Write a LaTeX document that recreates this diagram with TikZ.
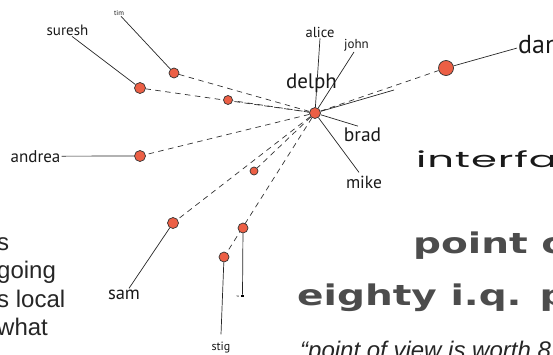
\documentclass[tikz,border=0pt]{standalone}
\usepackage{fontspec}
\setmainfont{PT Sans}
\newfontfamily\slidefont{Liberation Sans}
\newfontfamily\techfont[FakeStretch=1.9,LetterSpace=4]{Poppins}
\newfontfamily\dotfont[FakeStretch=1.37]{DejaVu Sans}
\usetikzlibrary{backgrounds}
\definecolor{nodered}{HTML}{EC5F45}

\begin{document}
\begin{tikzpicture}[x=1pt,y=-1pt,
  person/.style={circle,draw=black!80,fill=nodered,line width=0.7pt,inner sep=0pt,minimum size=#1},
  tie/.style={draw=black!80,line width=0.7pt,dash pattern=on 5.5pt off 4.5pt},
  leader/.style={draw=black!85,line width=0.7pt},
  who/.style={inner sep=1pt,anchor=base,text=black!90,font=\fontsize{#1}{#1}\selectfont},
  slide/.style={inner sep=0pt,anchor=base west,text=black!85,font=\slidefont\fontsize{24}{24}\selectfont},
  pixel/.style={inner sep=0pt,anchor=base west,text=black!70,font=\dotfont\bfseries\fontsize{28.5}{28.5}\selectfont},
]

\def \lead {28.5}

\useasboundingbox (0,0) rectangle (553,354);
\clip (0,0) rectangle (553,354);

\node[person=11pt] (delph) at (315,113) {};
\node[person=15pt] (dan) at (446,68) {};
\node[person=10pt] (tim) at (174,73) {};
\node[person=11pt] (suresh) at (140,88) {};
\node[person=9pt] (mid) at (228,100) {};
\node[person=11pt] (andrea) at (140,156) {};
\node[person=8pt] (low) at (254,171) {};
\node[person=11pt] (sam) at (173,223) {};
\node[person=10pt] (w) at (243,228) {};
\node[person=10pt] (stig) at (224,257) {};
\coordinate (ray) at (394,90);

\node[who=7] (ltim) at (119,15) {tim};
\node[who=15] (lsuresh) at (67.5,35) {suresh};
\node[who=17] (landrea) at (35.5,162) {andrea};
\node[who=14.5] (lalice) at (320,37) {alice};
\node[who=13] (ljohn) at (356.5,48) {john};
\node[who=21] (ldelph) at (311.5,88) {delph};
\node[who=19.5] (lbrad) at (362.5,141) {brad};
\node[who=17.5] (lmike) at (364,188) {mike};
\node[who=26,anchor=base west] (ldan) at (517,53) {dan};
\node[who=18.5] (lsam) at (124,299) {sam};
\node[who=12] (lstig) at (221,350) {stig};
\node[who=3.5] (lw) at (238,297) {w};
\node[fill=black,inner sep=0pt,minimum size=2.5pt] (wsq) at (242.5,296) {};

\begin{scope}[on background layer]
\draw[tie] (delph) -- (tim);
\draw[tie] (delph) -- (suresh);
\draw[tie,dash phase=5pt] (mid) -- (delph);
\draw[tie] (delph) -- (andrea);
\draw[tie] (delph) -- (low);
\draw[tie] (delph) -- (sam);
\draw[tie] (delph) -- (stig);
\draw[tie] (delph) -- (dan);

\draw[leader] (delph) -- (ray);
\draw[leader] (delph) -- (lalice.south);
\draw[leader] (delph) -- ([xshift=-2.5pt]ljohn.south);
\draw[leader] (delph) -- ([xshift=-4.5pt]lbrad.north);
\draw[leader] (delph) -- ([xshift=-5pt,yshift=2pt]lmike.north);
\draw[leader] (dan) -- ([yshift=-4pt]ldan.west);
\draw[leader] ([xshift=2pt]ltim.south) -- (tim);
\draw[leader] ([xshift=4.5pt]lsuresh.south) -- (suresh);
\draw[leader] (landrea.east) -- (andrea);
\draw[leader] ([xshift=5pt]lsam.north) -- (sam);
\draw[leader] ([yshift=6pt]lstig.north) -- (stig);
\draw[leader] (wsq.north) -- (w);
\end{scope}

\foreach \txt [count=\i] in {s, going, s local, what}{
\node[slide] (para\i) at (-3, 221.5+\lead*\i) {\txt};
}

\node[inner sep=0pt,anchor=base west,text=black!90,font=\techfont\fontsize{22}{22}\selectfont] (interf) at (416,167) {interfa};
\node[pixel] (pointof) at (413,253) {point o};
\node[pixel] (eighty) at (297,305) {eighty i.q. p};
\node[slide,font=\slidefont\itshape\fontsize{24}{24}\selectfont] (quote) at (300,358) {“point of view is worth 8};

\end{tikzpicture}
\end{document}
